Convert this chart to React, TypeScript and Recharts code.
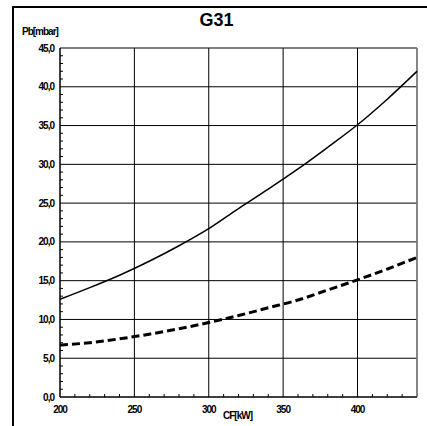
import { LineChart, Line, XAxis, YAxis, CartesianGrid, ReferenceLine } from 'recharts'

// Gas flow rate (kW) sample points
const CF_KW = [200, 220, 240, 260, 280, 300, 320, 340, 360, 380, 400, 420, 440]
// Burner pressure, upper curve (mbar)
const PB_UPPER = [12.6, 14.1, 15.7, 17.5, 19.5, 21.7, 24.3, 26.8, 29.4, 32.2, 35.1, 38.4, 42.0]
// Burner pressure, lower curve (mbar)
const PB_LOWER = [6.7, 7.0, 7.5, 8.1, 8.8, 9.6, 10.5, 11.5, 12.5, 13.8, 15.1, 16.5, 18.0]

const X_TICKS = [200, 250, 300, 350, 400]
const X_ALL = [200, 210, 220, 230, 240, 250, 260, 270, 280, 290, 300, 310, 320, 330, 340, 350, 360, 370, 380, 390, 400, 410, 420, 430]
const Y_TICKS = [0, 5, 10, 15, 20, 25, 30, 35, 40, 45]
const Y_ALL = Array.from({ length: 46 }, (_, i) => i)

const FONT = '"Liberation Sans", Arial, sans-serif'

const labelStyle = {
    fill: '#000',
    fontSize: 10,
    fontWeight: 700,
    fontFamily: FONT,
    letterSpacing: -1,
}

const data = CF_KW.map((cf, i) => ({ cf, upper: PB_UPPER[i], lower: PB_LOWER[i] }))

const fmtPressure = (v: number) => v.toFixed(1).replace('.', ',')

// bottom axis: short inward tick at every step, label only on majors
const XTick = ({ x, y, payload }: any) => {
    const v = payload.value
    const major = X_TICKS.includes(v)
    return (
        <g>
            {!major && <line x1={x} x2={x} y1={y} y2={y - 3} stroke="#000" />}
            {major && (
                <text x={x} y={y + 9} dy="0.71em" textAnchor="middle" {...labelStyle}>
                    {v}
                </text>
            )}
        </g>
    )
}

// left axis: short inward tick at every unit, label only on majors
const YTick = ({ x, y, payload }: any) => {
    const v = payload.value
    const major = Y_TICKS.includes(v)
    return (
        <g>
            {!major && <line x1={x} x2={x + 3} y1={y} y2={y} stroke="#000" />}
            {major && (
                <text x={x - 6} y={y} dy="0.355em" textAnchor="end" {...labelStyle}>
                    {fmtPressure(v)}
                </text>
            )}
        </g>
    )
}

export default function App() {
    return (
        <div style={{ position: 'absolute', left: 0, top: 0, width: 427, height: 426, background: '#fff', fontFamily: FONT, overflow: 'hidden' }}>
            {/* frame */}
            <div style={{ position: 'absolute', left: 12, top: 6, width: 2, height: 420, background: '#000' }} />
            <div style={{ position: 'absolute', left: 12, top: 6, width: 415, height: 2, background: '#000' }} />

            <div style={{ position: 'absolute', left: 0, width: 433, top: 11, textAlign: 'center', fontSize: 18, lineHeight: '18px', fontWeight: 700 }}>
                G31
            </div>
            <div style={{ position: 'absolute', left: 22, top: 27, fontSize: 10, lineHeight: '10px', fontWeight: 700, letterSpacing: -1 }}>
                Pb[mbar]
            </div>
            <div style={{ position: 'absolute', left: 223, top: 411, fontSize: 10, lineHeight: '10px', fontWeight: 700, letterSpacing: -1 }}>
                CF[kW]
            </div>

            <LineChart width={427} height={426} data={data} margin={{ top: 48, right: 10, bottom: 0, left: 0 }}>
                {/* grid follows the hidden major-step axes */}
                <CartesianGrid stroke="#000" strokeWidth={1} xAxisId="grid" yAxisId="grid" />
                <XAxis xAxisId="grid" dataKey="cf" type="number" domain={[200, 440]} ticks={X_TICKS} hide />
                <YAxis yAxisId="grid" dataKey="upper" type="number" domain={[0, 45]} ticks={Y_TICKS} hide />
                <XAxis
                    dataKey="cf"
                    type="number"
                    domain={[200, 440]}
                    ticks={X_ALL}
                    interval={0}
                    height={29}
                    tickSize={0}
                    tickMargin={0}
                    tickLine={false}
                    axisLine={{ stroke: '#000' }}
                    tick={<XTick />}
                />
                <YAxis
                    type="number"
                    domain={[0, 45]}
                    ticks={Y_ALL}
                    interval={0}
                    width={60}
                    tickSize={0}
                    tickMargin={0}
                    tickLine={false}
                    axisLine={{ stroke: '#000' }}
                    tick={<YTick />}
                />
                <ReferenceLine x={440} stroke="#888" strokeWidth={1.5} />
                <Line
                    type="monotone"
                    dataKey="upper"
                    stroke="#000"
                    strokeWidth={1.5}
                    dot={false}
                    isAnimationActive={false}
                />
                <Line
                    type="monotone"
                    dataKey="lower"
                    stroke="#000"
                    strokeWidth={3}
                    strokeDasharray="8 4"
                    dot={false}
                    isAnimationActive={false}
                />
            </LineChart>
        </div>
    )
}
